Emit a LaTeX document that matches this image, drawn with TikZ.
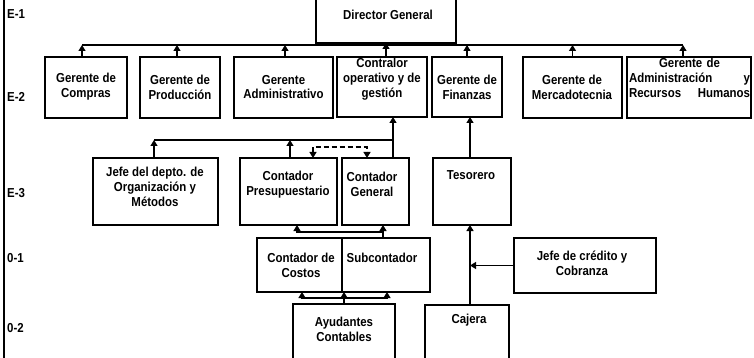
\documentclass[tikz,border=0pt]{standalone}
\usepackage{fontspec}
\setmainfont{Liberation Sans}[FakeStretch=0.88]
\usetikzlibrary{arrows.meta,calc}
\tikzset{
  box/.style={draw, line width=1.1pt, inner sep=0pt, outer sep=0pt, anchor=north west},
  lbl/.style={inner sep=0pt, align=center, font=\bfseries\fontsize{13}{14.8}\selectfont},
  rowlbl/.style={inner sep=0pt, anchor=west, font=\bfseries\fontsize{13}{14.8}\selectfont},
  ln/.style={line width=1.2pt},
  arr/.style={line width=1.2pt, -{Triangle[width=7pt,length=6pt]}},
  darr/.style={line width=1.2pt, dash pattern=on 5pt off 3pt, {Triangle[width=7pt,length=6pt]}-{Triangle[width=7pt,length=6pt]}},
}
\begin{document}
\begin{tikzpicture}[x=1pt,y=-1pt]
\useasboundingbox (0,0) rectangle (754,358);
% left rule
\draw[line width=1.5pt] (4,-2) -- (4,360);
% row labels
\node[rowlbl] (r1) at (7,14) {E-1};
\node[rowlbl] (r2) at (7,97) {E-2};
\node[rowlbl] (r3) at (7,193) {E-3};
\node[rowlbl] (r4) at (7,258) {0-1};
\node[rowlbl] (r5) at (7,328) {0-2};
% boxes
\node[box, minimum width=140pt, minimum height=45pt] (dir) at (316,-2) {};
\node[box, minimum width=82pt, minimum height=61pt] (compras) at (45,57) {};
\node[box, minimum width=80pt, minimum height=61pt] (prod) at (140,57) {};
\node[box, minimum width=99pt, minimum height=61pt] (admin) at (234,57) {};
\node[box, minimum width=90pt, minimum height=60pt] (contralor) at (337,57) {};
\node[box, minimum width=70pt, minimum height=60pt] (finanzas) at (432,57) {};
\node[box, minimum width=99pt, minimum height=61pt] (merc) at (523,57) {};
\node[box, minimum width=124pt, minimum height=61pt] (adminrh) at (627,57) {};
\node[box, minimum width=125pt, minimum height=67pt] (jefe) at (93,158) {};
\node[box, minimum width=97pt, minimum height=67pt] (presup) at (240,158) {};
\node[box, minimum width=67pt, minimum height=67pt] (general) at (342,158) {};
\node[box, minimum width=78pt, minimum height=67pt] (tesorero) at (433,158) {};
\node[box, minimum width=85pt, minimum height=54pt] (costos) at (257,238) {};
\node[box, minimum width=88pt, minimum height=54pt] (subcont) at (342,238) {};
\node[box, minimum width=142pt, minimum height=55pt] (credito) at (514,238) {};
\node[box, minimum width=102pt, minimum height=60pt] (ayud) at (293,304) {};
\node[box, minimum width=84pt, minimum height=60pt] (cajera) at (425,305) {};
% texts
\node[lbl] (t-dir) at (388,15) {Director General};
\node[lbl] (t-compras) at (86,87) {Gerente de\\Compras};
\node[lbl] (t-prod) at (180,87) {Gerente de\\Producción};
\node[lbl] (t-admin) at (283.5,87) {Gerente\\Administrativo};
\node[lbl] (t-contralor) at (382,79) {Contralor\\operativo y de\\gestión};
\node[lbl] (t-finanzas) at (467,87) {Gerente de\\Finanzas};
\node[lbl] (t-merc) at (572,87) {Gerente de\\Mercadotecnia};
\node[lbl, text width=121pt, align=left] (t-adminrh) at (689.5,78) {\makebox[\linewidth]{Gerente de}\\Administración\hfill y\\Recursos\hfill Humanos};
\node[lbl] (t-jefe) at (155,187) {Jefe del depto. de\\Organización y\\Métodos};
\node[lbl] (t-presup) at (288,184.5) {Contador\\Presupuestario};
\node[lbl] (t-general) at (372,184.5) {Contador\\General};
\node[lbl] (t-tesorero) at (471,175) {Tesorero};
\node[lbl] (t-costos) at (301,265.5) {Contador de\\Costos};
\node[lbl] (t-subcont) at (382,258) {Subcontador};
\node[lbl] (t-credito) at (582,263.5) {Jefe de crédito y\\Cobranza};
\node[lbl] (t-ayud) at (344,329.5) {Ayudantes\\Contables};
\node[lbl] (t-cajera) at (469,320) {Cajera};
% E-2 bus
\coordinate (busL) at (82,45);
\coordinate (busR) at (683,45);
\draw[ln] (busL) -- (busR);
\draw[arr] (compras.north -| busL) -- (busL);
\draw[arr] ($(prod.north)+(-3,0)$) -- ($(prod.north)+(-3,-12)$);
\draw[arr] ($(admin.north)+(1.5,0)$) -- ($(admin.north)+(1.5,-12)$);
\draw[arr] (finanzas.north) -- ++(0,-12);
\draw[arr] (merc.north) -- ++(0,-12);
\draw[arr] (adminrh.north -| busR) -- (busR);
\draw[arr] (contralor.north -| dir.south) -- (dir.south);
% E-3 to E-2
\coordinate (jx) at (154,140);
\coordinate (px) at (290,140);
\coordinate (gx) at (393,140);
\draw[ln] (jx) -- (gx);
\draw[arr] (jefe.north -| jx) -- (jx);
\draw[arr] (presup.north -| px) -- (px);
\draw[arr] (general.north -| gx) -- (contralor.south -| gx);
\coordinate (d1) at (313,147);
\coordinate (d2) at (367,147);
\draw[darr] (presup.north -| d1) -- (d1) -- (d2) -- (general.north -| d2);
\coordinate (tx) at (470,200);
\draw[arr] (tesorero.north -| tx) -- (finanzas.south -| tx);
% O-1 to E-3
\coordinate (sx) at (383,232);
\coordinate (cx) at (297,232);
\draw[arr] (subcont.north -| sx) -- (general.south -| sx);
\draw[arr] (sx) -- (cx) -- (presup.south -| cx);
% O-2 to O-1
\coordinate (am) at (344,298);
\coordinate (a1) at (302,298);
\coordinate (a2) at (387,298);
\draw[ln] (ayud.north -| am) -- (am);
\draw[arr] (am) -- (costos.south -| am);
\draw[arr] (am) -- (a1) -- (costos.south -| a1);
\draw[arr] (am) -- (a2) -- (subcont.south -| a2);
% Cajera, credito
\draw[arr] (cajera.north -| tx) -- (tesorero.south -| tx);
\draw[arr] (credito.west) -- (credito.west -| tx);
\end{tikzpicture}
\end{document}
